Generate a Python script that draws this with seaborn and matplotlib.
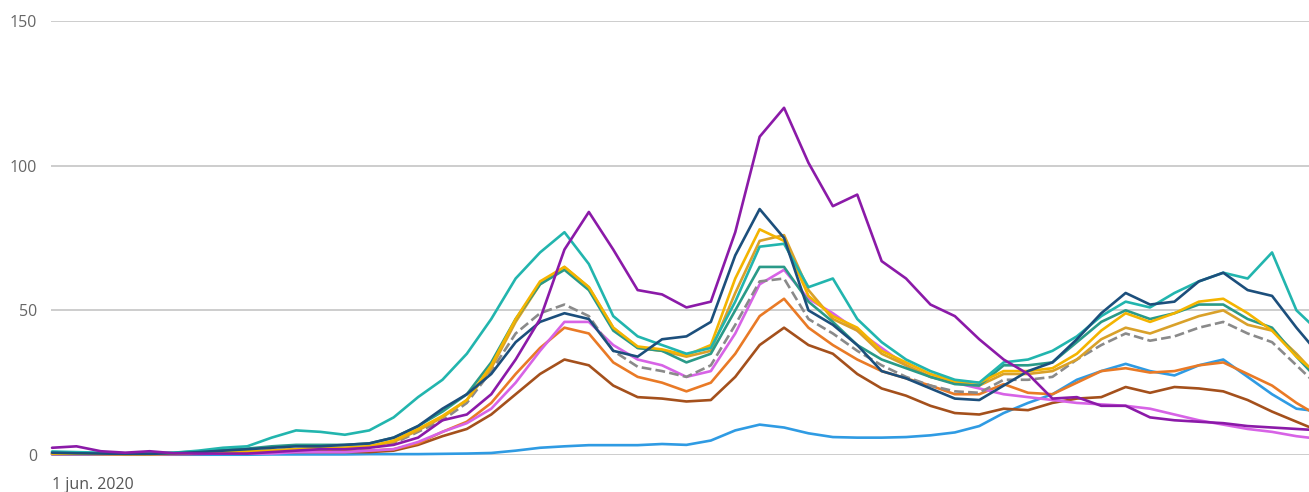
"""Line chart: weekly incidence per region, 1 jun. 2020 onwards.

Output: out.png
"""
from __future__ import annotations

import matplotlib
matplotlib.use("Agg")
import matplotlib.pyplot as plt
import pandas as pd
import seaborn as sns

START = "2020-06-01"
N_WEEKS = 53

purple = [2.5, 3, 1.3, 0.8, 1.3, 0.6, 0.5, 0.5, 0.5, 1, 1.5, 2, 2, 2.5,
          3.5, 6, 12, 14, 21, 33, 47, 71, 84, 71, 57,
          55.5, 51, 53, 77, 110, 120, 101, 86, 90,
          67, 61, 52, 48, 40, 33, 28, 19.5, 20,
          17, 17, 13, 12, 11.5, 11, 10, 9.5, 9, 8.5]
turquoise = [1.2, 1, 0.8, 0.6, 0.6, 0.8, 1.5, 2.5, 3, 6, 8.5, 8, 7, 8.5,
             13, 20, 26, 35, 47, 61, 70, 77, 66, 48, 41,
             38, 35, 37, 53, 72, 73, 58, 61, 47,
             39, 33, 29, 26, 25, 32, 33, 36, 41,
             48, 53, 51, 56, 60, 63, 61, 70, 50, 42]
navy = [0.8, 0.6, 0.5, 0.4, 0.4, 0.6, 1, 1.5, 2, 2.5, 3, 3, 3.5, 4,
        6, 10, 16, 21, 28, 39, 46, 49, 47, 36, 34,
        40, 41, 46, 69, 85, 75, 50, 45, 38,
        29, 26.5, 23, 19.5, 19, 24, 29, 32, 40,
        49, 56, 52, 53, 60, 63, 57, 55, 44, 34]
yellow = [0.5, 0.5, 0.4, 0.3, 0.3, 0.5, 0.8, 1, 1.3, 1.5, 2, 2.5, 2.5, 3,
          5, 9, 13.5, 19, 31, 47, 60, 65, 58, 44, 37.5,
          36.5, 34.5, 38, 61, 78, 74, 55, 48, 44,
          36, 32, 28, 25.5, 25, 29, 29, 30, 35,
          43, 49, 46, 49, 53, 54, 49, 43, 34, 27]
gold = [0.5, 0.5, 0.4, 0.3, 0.3, 0.5, 0.8, 1, 1.2, 1.5, 2, 2.3, 2.5, 3,
        4.5, 8.5, 13, 19, 30, 46, 59, 65, 58, 44, 37,
        36, 34, 36, 56, 74, 76, 57, 47, 43,
        35, 31, 27, 25, 24, 28, 28, 29, 33,
        40, 44, 42, 45, 48, 50, 45, 43, 35, 26]
green = [1, 0.8, 0.6, 0.5, 0.5, 0.8, 1.2, 1.8, 2.2, 3, 3.5, 3.5, 3.5, 4,
         6, 10, 15, 21, 32, 47, 59, 64, 57, 43, 37,
         36, 32, 35, 50, 65, 65, 53, 46, 38,
         33, 30, 27, 24.5, 24, 31, 31, 32, 39,
         46, 50, 47, 49, 52, 52, 47, 44, 34, 25]
average = [0.5, 0.5, 0.4, 0.3, 0.3, 0.5, 0.7, 1, 1.2, 1.5, 2, 2, 2, 2.5,
           4, 8, 12, 18, 29, 42, 49, 52, 48, 36, 30.5,
           29, 27, 31, 45, 60, 61, 47, 42, 36,
           31, 27, 24, 22, 21.5, 26, 26, 27, 33,
           38, 42, 39.5, 41, 44, 46, 42, 39, 31, 23]
pink = [0.3, 0.3, 0.3, 0.2, 0.2, 0.3, 0.4, 0.5, 0.5, 0.5, 1, 1, 1, 1.5,
        2, 4.5, 8, 11, 16, 25, 36, 46, 46, 38, 33,
        31, 27, 29, 42, 59, 64, 54, 49, 43,
        37, 31, 27, 25, 23, 21, 20, 19, 18,
        17.5, 17, 16, 14, 12, 10.5, 9, 8, 6.5, 5.5]
orange = [0.5, 0.5, 0.4, 0.3, 0.3, 0.4, 0.6, 0.8, 1, 1.2, 1.5, 1.5, 1.5, 1.5,
          2, 4, 8, 11.5, 18, 28, 37, 44, 42, 32, 27,
          25, 22, 25, 35, 48, 54, 44, 38, 33,
          29, 26.5, 24, 21, 21, 24.5, 21.5, 21, 25,
          29, 30, 28.5, 29, 31, 32, 28, 24, 18, 13]
brown = [0.3, 0.3, 0.3, 0.2, 0.2, 0.3, 0.4, 0.5, 0.6, 0.8, 1, 1, 1, 1,
         1.5, 3.5, 6.5, 9, 14, 21, 28, 33, 31, 24, 20,
         19.5, 18.5, 19, 27, 38, 44, 38, 35, 28,
         23, 20.5, 17, 14.5, 14, 16, 15.5, 18, 19.5,
         20, 23.5, 21.5, 23.5, 23, 22, 19, 15, 11.5, 8]
lightblue = [0.2, 0.2, 0.2, 0.1, 0.1, 0.1, 0.1, 0.1, 0.1, 0.2, 0.2, 0.2, 0.2, 0.3,
             0.3, 0.3, 0.4, 0.5, 0.7, 1.5, 2.5, 3, 3.4, 3.4, 3.4,
             3.8, 3.5, 5, 8.5, 10.5, 9.5, 7.5, 6.2, 6,
             6, 6.2, 6.8, 7.8, 10, 14.5, 18, 21, 26,
             29, 31.5, 29, 27.5, 31, 33, 27, 21, 16, 15]

# drawing order: first in the list ends up at the bottom
SERIES = [
    ("lightblue", lightblue, "#2f9be3", "-"),
    ("brown", brown, "#a4501c", "-"),
    ("orange", orange, "#e97a26", "-"),
    ("pink", pink, "#d763e6", "-"),
    ("average", average, "#8a8a8a", "--"),
    ("gold", gold, "#d9a12a", "-"),
    ("green", green, "#2a9a88", "-"),
    ("yellow", yellow, "#f4b400", "-"),
    ("turquoise", turquoise, "#22b5ae", "-"),
    ("navy", navy, "#1c4f7c", "-"),
    ("purple", purple, "#8b1aa8", "-"),
]

Y_TICKS = [0, 50, 100, 150]
X_TICK_LABEL = "1 jun. 2020"


def build_frame() -> pd.DataFrame:
    dates = pd.date_range(START, periods=N_WEEKS, freq="7D")
    rows = []
    for name, values, _, _ in SERIES:
        rows.append(pd.DataFrame({"date": dates, "value": values, "series": name}))
    return pd.concat(rows, ignore_index=True)


def plot_lines(df: pd.DataFrame, out_path: str):
    sns.set_style("white")
    plt.rcParams["font.family"] = ["Open Sans", "DejaVu Sans"]

    fig = plt.figure(figsize=(13.09, 4.92), dpi=100)
    ax = fig.add_axes([51 / 1309, 37 / 492, 1 - 51 / 1309, 434 / 492])

    for name, _, color, ls in SERIES:
        sub = df[df["series"] == name]
        sns.lineplot(data=sub, x="date", y="value", color=color, linestyle=ls,
                     linewidth=1.9, ax=ax, legend=False, clip_on=False)

    start = pd.Timestamp(START)
    ax.set_xlim(start - pd.Timedelta(days=0.3), start + pd.Timedelta(days=360.6))
    ax.set_ylim(0, 150)

    ax.set_yticks(Y_TICKS)
    ax.set_yticklabels([str(v) for v in Y_TICKS])
    ax.set_xticks([start])
    ax.set_xticklabels([X_TICK_LABEL], ha="left")
    ax.tick_params(axis="y", length=0, pad=10, labelsize=11.5, labelcolor="#666666")
    ax.tick_params(axis="x", length=0, pad=16, labelsize=11.5, labelcolor="#555555")

    ax.grid(axis="y", color="#c9c9c9", linewidth=1.3)
    ax.grid(axis="x", visible=False)
    ax.set_axisbelow(True)
    sns.despine(ax=ax, left=True, bottom=True)
    ax.set_xlabel("")
    ax.set_ylabel("")

    fig.savefig(out_path, dpi=100)
    plt.close(fig)


def main():
    df = build_frame()
    plot_lines(df, "out.png")
    return 0


if __name__ == "__main__":
    raise SystemExit(main())
